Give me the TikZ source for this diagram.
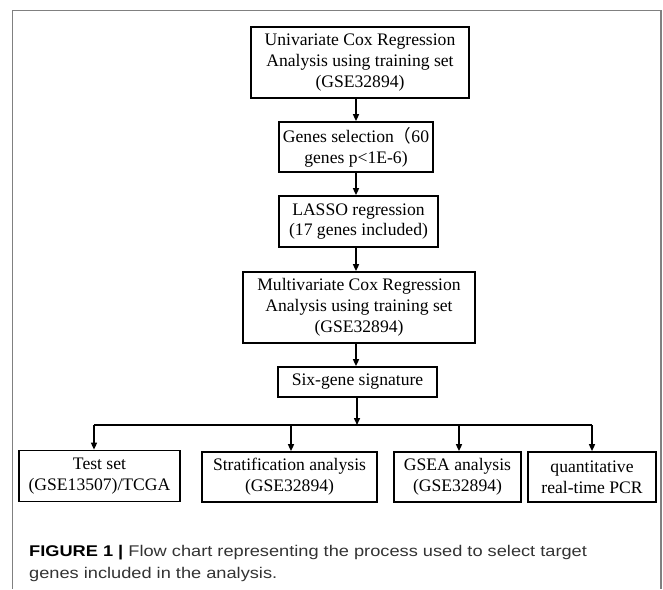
\documentclass[tikz,border=0pt]{standalone}
\usepackage{fontspec}
\setmainfont{Liberation Serif}
\newfontfamily\capfont[FakeStretch=1.175]{Liberation Sans}
\newfontfamily\cjkfont{Noto Sans CJK SC}
\usetikzlibrary{arrows.meta}
\begin{document}
\begin{tikzpicture}[x=1pt,y=-1pt,
  box/.style={draw,line width=1.7pt,align=center,inner sep=0pt,
    font=\fontsize{17.6}{20.8}\selectfont},
  conn/.style={line width=1.5pt,-{Triangle[length=7pt,width=6pt]}},
  busline/.style={line width=1.5pt},
  frameline/.style={draw=black!50,line width=1.5pt},
  captxt/.style={anchor=base west,inner sep=0pt,text=black!80,
    font=\capfont\fontsize{15.5}{22}\selectfont}]
\useasboundingbox (0,0) rectangle (663,589);
\draw[frameline] (12.7,589) -- (12.7,10.7) -- (661,10.7) -- (661,589);

\node[box,minimum width=218pt,minimum height=71pt] (b1) at (360,62.5)
  {Univariate Cox Regression\\Analysis using training set\\(GSE32894)};
\node[box,minimum width=154pt,minimum height=50pt] (b2) at (356,147)
  {Genes selection{\cjkfont （}60\\genes p<1E-6)};
\node[box,minimum width=159pt,minimum height=51pt] (b3) at (358.5,221.5)
  {LASSO regression\\(17 genes included)};
\node[box,minimum width=232pt,minimum height=71pt] (b4) at (359,307.5)
  {Multivariate Cox Regression\\Analysis using training set\\(GSE32894)};
\node[box,minimum width=159pt,minimum height=30pt] (b5) at (357.5,382)
  {Six-gene signature};

\node[box,minimum width=161pt,minimum height=51pt] (t1) at (99.5,476)
  {Test set\\(GSE13507)/TCGA};
\node[box,minimum width=175pt,minimum height=50pt] (t2) at (289.5,477)
  {Stratification analysis\\(GSE32894)};
\node[box,minimum width=127pt,minimum height=50pt] (t3) at (457.5,477)
  {GSEA analysis\\(GSE32894)};
\node[box,minimum width=128pt,minimum height=50pt] (t4) at (592,477)
  {quantitative\\real-time PCR};

\coordinate (ax) at (356,0);
\draw[conn] (b1.south -| ax) -- (b2.north -| ax);
\draw[conn] (b2.south -| ax) -- (b3.north -| ax);
\draw[conn] (b3.south -| ax) -- (b4.north -| ax);
\draw[conn] (b4.south -| ax) -- (b5.north -| ax);

\coordinate (bus) at (357,425);
\coordinate (busA) at (94,425);
\coordinate (busB) at (291,425);
\coordinate (busC) at (459,425);
\coordinate (busD) at (592,425);
\draw[conn] (b5.south -| bus) -- (bus);
\draw[busline] (busA) -- (busD);
\draw[conn] (busA) -- (t1.north -| busA);
\draw[conn] (busB) -- (t2.north -| busB);
\draw[conn] (busC) -- (t3.north -| busC);
\draw[conn] (busD) -- (t4.north -| busD);

\node[captxt] (cap1) at (29,556)
  {{\color{black}\bfseries FIGURE 1 |} Flow chart representing the process used to select target};
\node[captxt] (cap2) at (29,578)
  {genes included in the analysis.};
\end{tikzpicture}
\end{document}
